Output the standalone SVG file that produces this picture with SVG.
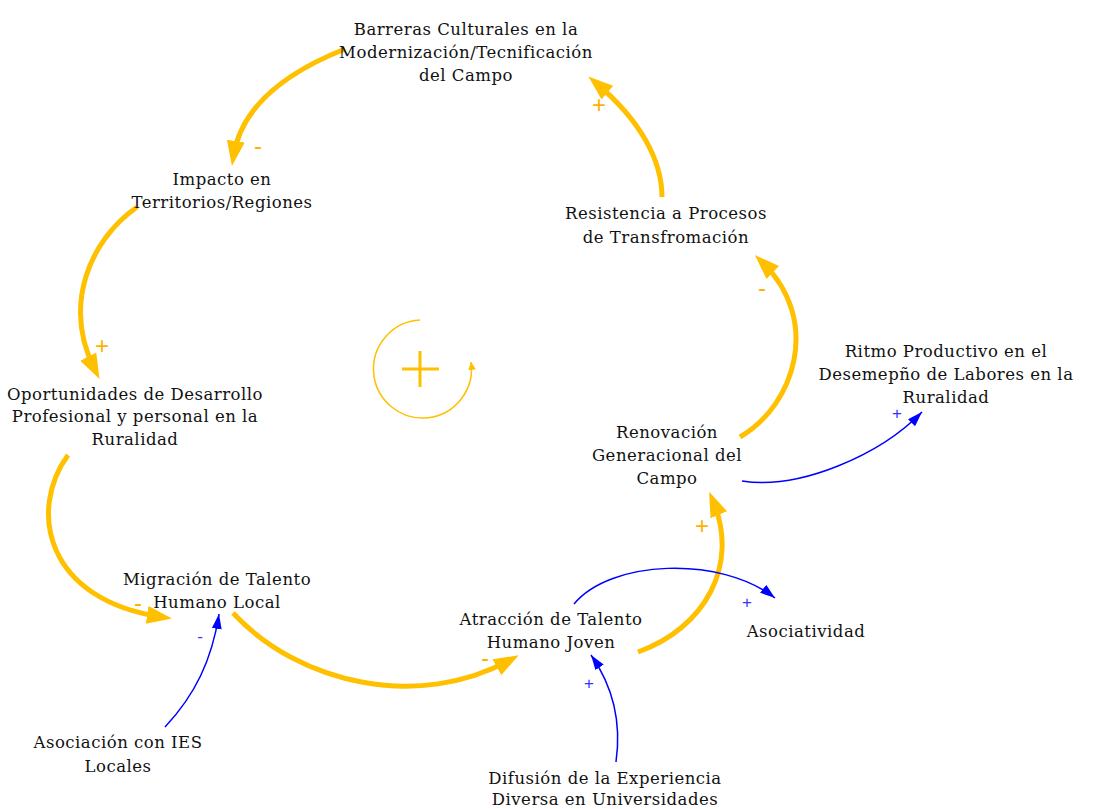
<svg xmlns="http://www.w3.org/2000/svg" width="1093" height="809" viewBox="0 0 1093 809">
<defs>
<style>
.t{font-family:"DejaVu Serif","Liberation Serif",serif;font-size:16.5px;letter-spacing:0.5px;fill:#111;text-anchor:middle}
.o{fill:none;stroke:#FFC000;stroke-width:5}
.b{fill:none;stroke:#0000FF;stroke-width:1.5}
.so{font-family:"Liberation Sans",sans-serif;font-size:24px;fill:#FFB000;text-anchor:middle}
.sb{font-family:"Liberation Sans",sans-serif;font-size:17px;fill:#3333FF;text-anchor:middle}
</style>
<marker id="ao" markerUnits="userSpaceOnUse" markerWidth="25" markerHeight="18" refX="15" refY="9" orient="auto" viewBox="0 0 25 18"><path d="M0,0 L25,9 L0,18 z" fill="#FFC000"/></marker>
<marker id="ab" markerUnits="userSpaceOnUse" markerWidth="15" markerHeight="10" refX="15" refY="5" orient="auto" viewBox="0 0 15 10"><path d="M0,0 L15,5 L0,10 z" fill="#0000FF"/></marker>
<marker id="al" markerUnits="userSpaceOnUse" markerWidth="8" markerHeight="8" refX="8" refY="4" orient="auto" viewBox="0 0 8 8"><path d="M0,0 L8,4 L0,8 z" fill="#FFC000"/></marker>
</defs>
<g id="connectors">
<path class="o" d="M345,49 Q244,89 233.5,156" marker-end="url(#ao)"/>
<path class="o" d="M137,207 C90,240 62,305 95,370" marker-end="url(#ao)"/>
<path class="o" d="M68,455 C28,510 45,600 162,617" marker-end="url(#ao)"/>
<path class="o" d="M233,613 C300,685 420,710 510,660" marker-end="url(#ao)"/>
<path class="o" d="M638,652 C705,628 740,565 713,501" marker-end="url(#ao)"/>
<path class="o" d="M740,437 C795,405 822,320 762,262" marker-end="url(#ao)"/>
<path class="o" d="M662,197 C662,160 640,120 596,83" marker-end="url(#ao)"/>
<path class="b" d="M165,727 C195,695 212,660 219,614" marker-end="url(#ab)"/>
<path class="b" d="M616,762 C622,720 612,685 591,655" marker-end="url(#ab)"/>
<path class="b" d="M574,604 C610,560 720,555 775,598" marker-end="url(#ab)"/>
<path class="b" d="M742,481 C800,490 880,455 922,412" marker-end="url(#ab)"/>
<text class="so" x="258" y="154">-</text>
<text class="so" x="102" y="354">+</text>
<text class="so" x="138" y="611">-</text>
<text class="so" x="485" y="666">-</text>
<text class="so" x="702" y="534">+</text>
<text class="so" x="762" y="296">-</text>
<text class="so" x="599" y="113">+</text>
<text class="sb" x="200" y="642">-</text>
<text class="sb" x="589" y="689">+</text>
<text class="sb" x="747" y="608">+</text>
<text class="sb" x="897" y="419">+</text>
</g>
<g id="loop">
<path d="M420,320 A49,49 0 1 0 471,362" fill="none" stroke="#FFC000" stroke-width="1.5" marker-end="url(#al)"/>
<path d="M402,369 H439 M420,351 V387" stroke="#FFC000" stroke-width="3" fill="none"/>
</g>
<g id="n-barreras"><text class="t" x="466" y="35">Barreras Culturales en la</text><text class="t" x="466" y="58">Modernización/Tecnificación</text><text class="t" x="466" y="81">del Campo</text></g>
<g id="n-impacto"><text class="t" x="222" y="185">Impacto en</text><text class="t" x="222" y="208">Territorios/Regiones</text></g>
<g id="n-oportunidades"><text class="t" x="135" y="400">Oportunidades de Desarrollo</text><text class="t" x="135" y="422">Profesional y personal en la</text><text class="t" x="135" y="445">Ruralidad</text></g>
<g id="n-migracion"><text class="t" x="217" y="585">Migración de Talento</text><text class="t" x="217" y="608">Humano Local</text></g>
<g id="n-asociacion"><text class="t" x="118" y="748">Asociación con IES</text><text class="t" x="118" y="772">Locales</text></g>
<g id="n-atraccion"><text class="t" x="551" y="625">Atracción de Talento</text><text class="t" x="551" y="648">Humano Joven</text></g>
<g id="n-asociatividad"><text class="t" x="806" y="637">Asociatividad</text></g>
<g id="n-difusion"><text class="t" x="605" y="784">Difusión de la Experiencia</text><text class="t" x="605" y="805">Diversa en Universidades</text></g>
<g id="n-renovacion"><text class="t" x="667" y="438">Renovación</text><text class="t" x="667" y="461">Generacional del</text><text class="t" x="667" y="484">Campo</text></g>
<g id="n-resistencia"><text class="t" x="666" y="219">Resistencia a Procesos</text><text class="t" x="666" y="243">de Transfromación</text></g>
<g id="n-ritmo"><text class="t" x="946" y="357">Ritmo Productivo en el</text><text class="t" x="946" y="380">Desemepño de Labores en la</text><text class="t" x="946" y="403">Ruralidad</text></g>
</svg>
